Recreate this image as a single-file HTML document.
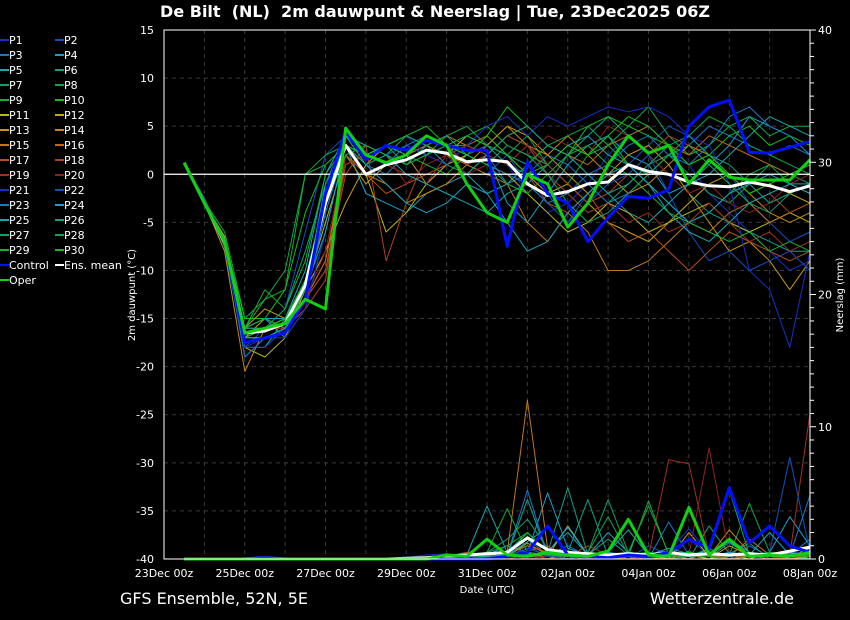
<!DOCTYPE html>
<html><head><meta charset="utf-8">
<style>
html,body{margin:0;padding:0;background:#000;}
svg{display:block;font-family:"DejaVu Sans","Liberation Sans",sans-serif;}
</style></head>
<body>
<svg id="chart" width="850" height="620" viewBox="0 0 850 620" xmlns="http://www.w3.org/2000/svg">
<rect x="0" y="0" width="850" height="620" fill="#000"/>
<text x="435" y="17" fill="#fff" font-size="16" font-weight="bold" text-anchor="middle" xml:space="preserve">De Bilt  (NL)  2m dauwpunt &amp; Neerslag | Tue, 23Dec2025 06Z</text>
<text x="120" y="604" fill="#fff" font-size="16">GFS Ensemble, 52N, 5E</text>
<text x="794" y="604" fill="#fff" font-size="16" text-anchor="end">Wetterzentrale.de</text>
<text x="487" y="593" fill="#fff" font-size="10" text-anchor="middle">Date (UTC)</text>
<text transform="translate(135,295) rotate(-90)" fill="#fff" font-size="10" text-anchor="middle">2m dauwpunt (°C)</text>
<text transform="translate(843,295) rotate(-90)" fill="#fff" font-size="10" text-anchor="middle">Neerslag (mm)</text>
<g id="grid"></g>
<g id="series"></g>
<g id="axes"></g>
<g id="legend"></g>
</svg>
<script>
const xTickLabels=["23Dec 00z","25Dec 00z","27Dec 00z","29Dec 00z","31Dec 00z","02Jan 00z","04Jan 00z","06Jan 00z","08Jan 00z"];
const xTickDays=[0,2,4,6,8,10,12,14,16];
const yTicks=[15,10,5,0,-5,-10,-15,-20,-25,-30,-35,-40];
const y2Ticks=[0,10,20,30,40];
const times=[0.5,1,1.5,2,2.5,3,3.5,4,4.5,5,5.5,6,6.5,7,7.5,8,8.5,9,9.5,10,10.5,11,11.5,12,12.5,13,13.5,14,14.5,15,15.5,16];
const members=[
[1.2,-3,-7,-17,-17,-16,-13,-3,4,2,3,2,3,1,2,3,1,-2,-4,-3,-1,2,4,5,3,1,-2,-4,-6,-8,-10,-9],
[1.2,-3,-8,-18,-16,-14,-6,2,4,2,1,3,2,3,1,0,2,-1,-3,-5,-2,0,1,3,5,4,2,0,-3,-5,-7,-6],
[1.2,-2.5,-7,-19,-17,-16,-12,-1,3,1,0,2,3,4,3,2,-1,0,2,1,-1,-3,-2,0,2,3,5,4,3,2,3,2],
[1,-3,-6.5,-16,-15,-17,-14,-6,3,-2,-3,-4,-2,-1,0,2,-3,-5,-2,1,3,4,2,1,-2,-1,1,3,6,5,4,2],
[1.2,-3,-7,-18,-18,-15,-10,0,4,1,2,1,3,2,0,-2,-1,1,3,2,0,-2,-4,-5,-3,-1,0,2,4,6,5,4],
[1.2,-3.2,-7,-16,-16,-15,-11,-2,4,3,2,4,3,2,4,3,1,0,-1,2,4,6,4,2,0,-2,-4,-5,-6,-7,-8,-8],
[1.2,-3,-7.5,-17,-17,-16,-13,-4,3,2,3,2,4,3,3,2,4,3,0,-2,-4,-3,-1,1,2,0,-2,-3,-1,1,0,-1],
[1.1,-2.8,-6,-15,-13,-10,0,2,3,1,2,3,2,4,5,3,2,4,1,-1,2,3,5,7,4,2,3,5,6,4,5,5],
[1.2,-3,-7,-16,-12,-14,-9,0,3,2,3,1,2,3,4,5,3,2,1,3,2,4,1,-1,-3,-5,-4,-2,0,1,-1,-2],
[1.2,-3,-7,-15,-15,-12,-4,1,3,2,3,4,3,2,3,4,7,5,3,2,5,6,5,4,3,1,2,4,5,3,4,3],
[1.2,-3,-6.5,-18,-19,-17,-12,-5,2,0,-6,-4,-1,1,2,1,0,-2,-4,-6,-5,-3,-4,-6,-5,-4,-3,-5,-6,-5,-4,-5],
[1.2,-3,-7,-17,-15,-16,-12,-8,-3,1,3,2,3,2,4,3,2,0,-2,-1,-3,-5,-6,-7,-5,-3,-1,0,-2,-1,-2,-3],
[1.2,-3,-7,-16,-14,-15,-13,-3,2,-1,1,2,-1,1,2,3,5,4,2,0,-2,0,2,3,1,-2,-5,-8,-7,-9,-12,-9],
[1.2,-3,-8,-20.5,-16,-15,-13,-9,2,0,-1,-3,-2,-1,1,3,5,3,2,4,2,0,-2,-1,1,3,2,0,-2,-4,-5,-4],
[1.2,-3,-7,-17,-16,-16,-13,-10,1,2,3,4,3,2,1,0,-1,-5,-7,-4,-6,-10,-10,-9,-7,-5,-6,-4,-3,-5,-4,-3],
[1.2,-3,-7,-16,-15,-15,-13,-9,1,2,1,2,3,4,3,2,4,5,3,2,1,3,4,5,3,2,4,3,2,1,0,1],
[1.2,-3,-7,-17,-17,-16,-14,-11,2,0,-2,-1,0,1,3,4,2,0,-3,-4,-2,-5,-7,-6,-8,-10,-8,-6,-7,-8,-9,-8],
[1.2,-3,-7,-17,-16,-15,-13,-10,0,3,-9,-3,2,3,1,2,4,3,1,-1,-3,-2,0,2,4,3,1,-1,-3,-2,-4,-3],
[1.2,-3,-7,-16,-16,-16,-14,-11,1,2,1,0,-1,2,3,2,1,3,0,-2,-4,-3,-5,-4,-6,-5,-3,-5,-7,-6,-8,-7],
[1.2,-3,-7,-17,-16,-16,-13,-8,2,3,2,-1,1,2,0,1,3,2,4,3,2,5,4,2,0,-2,-1,-3,-4,-3,-1,0],
[1.2,-3,-7,-18,-17,-17,-14,-6,3,2,3,4,2,1,3,5,6,4,6,5,6,7,6.5,7,6,4,3,-1,-10,-12,-18,-8],
[1.2,-3,-7,-18,-18,-16,-13,-3,3,1,2,3,2,3,2,3,2,1,-2,-5,-3,-1,0,2,-2,-6,-9,-8,-10,-9,-8,-10],
[1.2,-3,-7,-19,-17,-16,-13,-4,3,2,1,3,4,3,2,1,0,-1,-3,-2,0,1,3,4,2,1,3,6,7,5,4,2],
[1.2,-3,-7,-16,-15,-15,-12,-6,3,1,-1,-3,-4,-3,-1,-2,-5,-8,-7,-4,-2,0,1,-1,-3,-5,-4,-2,-1,0,-1,-2],
[1.2,-3,-7,-17,-17,-16,-13,-1,4,3,2,0,-1,-2,-3,-4,-2,-1,1,3,4,2,1,-1,-4,-6,-7,-5,-3,-2,-1,-1],
[1.2,-3,-7,-16,-16,-15,-12,-2,3,2,3,4,3,1,0,2,4,5,3,2,0,-2,-1,1,3,4,2,1,-1,-3,-2,-1],
[1.2,-3,-7,-17,-16,-14,-8,-1,3,1,2,1,3,4,2,1,3,2,0,-3,-5,-4,-2,0,2,3,1,-1,-3,-4,-2,-1],
[1.2,-3,-7,-16,-15,-16,-12,-3,2,3,2,1,2,3,4,3,2,1,3,4,5,3,1,0,2,4,6,5,3,2,1,0],
[1.2,-3,-7,-16,-13,-12,0,1,3,2,3,2,1,0,2,1,-1,-2,0,2,3,1,0,-2,-4,-5,-6,-7,-6,-8,-7,-8],
[1.2,-3,-7,-17,-16,-15,-11,-2,3,2,3,4,5,3,2,4,2,0,1,3,2,4,6,5,3,1,2,0,-2,-1,0,1]
];
const control=[1.2,-3,-7,-17.5,-17,-16.5,-13,-2,4.5,1.5,3,2.5,3.5,3,2.5,2.5,-7.5,1.3,-2,-3,-7,-4.5,-2.3,-2.5,-1.6,5,7,7.7,2.3,2.2,2.8,3.4];
const oper=[1.2,-3,-7,-16.5,-16,-15.5,-13,-14,4.8,2,1.2,2,4,3,-1,-4,-5,0,-1,-5.5,-3,1,4,2.2,3,-1,1.5,-0.3,-0.6,-0.6,-0.6,1.5];
const ensMean=[1.2,-3,-7.1,-16.5,-16.3,-15.5,-11.5,-3,3,0,1,1.5,2.5,2.2,1.3,1.5,1.3,-1,-2.2,-1.8,-1,-0.8,1,0.3,0,-0.8,-1.2,-1.3,-0.8,-1.2,-1.8,-1.2];
const memberPrecip=[
[0,0,0,0,0,0,0,0,0,0,0,0,0.1,0.3,0.2,0,0.5,1,0.2,0,0.3,0,0.5,0.2,0,1.5,0.3,0,0.2,0,0.4,0.2],
[0,0,0,0,0,0,0,0,0,0,0,0,0,0.2,0.1,0.3,0.2,4.5,0.5,0.3,0,0.2,0,1,0.3,0,0.5,1.2,0.3,0,0.2,0.5],
[0,0,0,0,0,0,0,0,0,0,0,0,0,0,0,0.2,0.4,1.5,0.3,1,0.2,0,0.3,0,2.8,0.3,0.5,0,1,0.2,0.3,1.5],
[0,0,0,0,0,0,0,0,0,0,0,0,0,0.2,0.5,0.3,1,0.5,5,0.8,0.3,2,0.5,0.3,0,0.5,0,1.3,0.2,0.5,3.2,1],
[0,0,0,0,0,0,0,0,0,0,0,0,0,0,0.3,4,0.5,0.2,0.6,2,0.3,0,0.5,0.2,0.3,0,0.8,0,0.3,0.5,0.2,0],
[0,0,0,0,0,0,0,0,0,0,0,0,0,0,0,0.3,0.2,0.8,0.3,0.5,4.5,0.2,0.3,0,0.5,0,2.5,0.4,1.2,0,0.3,0],
[0,0,0,0,0,0,0,0,0,0,0,0,0,0,0.1,0.5,1.5,3,0.8,0.2,0.5,4.5,0.5,0.3,0,0.2,0.8,0,0.2,0.5,0,0.3],
[0,0,0,0,0,0,0,0,0,0,0,0,0,0,0,0.5,1,2,0.5,0.3,0,0.2,0.5,4,0.4,0.5,0,0.3,4.2,0.5,0.3,0.2],
[0,0,0,0,0,0,0,0,0,0,0,0,0,0,0.2,0.4,0.3,1,0.5,0,0.3,0,0.2,0.3,0,0.6,0,0.2,0.3,0,0.5,0],
[0,0,0,0,0,0,0,0,0,0,0,0,0,0.1,0,0.2,0.3,0.4,0.3,0.2,0,0.5,0.2,0,0.5,0.2,0.3,0,0.2,0.4,0,0.2],
[0,0,0,0,0,0,0,0,0,0,0,0,0,0,0,0,0.2,0.3,0,0.5,0.2,0,0.3,0,0.2,0.3,0,0.5,0.3,0,0.2,0.8],
[0,0,0,0,0,0,0,0,0,0,0,0,0,0,0.1,0.2,0.5,0.3,0.2,2.5,0.3,0,0.5,0.3,0,2,0.2,0.3,0,0.5,0.4,0.3],
[0,0,0,0,0,0,0,0,0,0,0,0,0,0,0,0.3,0.2,1.2,0.3,0,0.5,0.2,0,0.4,0.2,0.3,0,1,0.3,0.5,0,0.2],
[0,0,0,0,0,0,0,0,0,0,0,0,0,0,0,0,0.3,0.5,0.2,0.3,0,0.5,0.3,0.2,0,0.5,0.2,2.2,0.5,0.3,0.2,0.5],
[0,0,0,0,0,0,0,0,0,0,0,0,0,0,0.2,0.1,0.5,12,0.8,0.3,0.2,0.5,0,0.3,0.2,0.5,0.3,0,0.2,0.3,0,0.4],
[0,0,0,0,0,0,0,0,0,0,0,0,0,0,0,0.2,0.3,1,0.5,0.2,0.3,0,0.4,0.2,0.3,0,0.5,0.2,1.5,0.3,0.2,0.4],
[0,0,0,0,0,0,0,0,0,0,0,0,0,0,0.5,0.3,0.2,0.6,1,0.2,0,0.3,0.2,0,0.3,0.5,0.2,0,0.3,0,0.2,0.3],
[0,0,0,0,0,0,0,0,0,0,0,0,0,0,0,0.2,0,0.3,0.5,0.2,1,0.3,0,0.5,0.2,0.3,0.5,0.2,0.3,0.2,0,0.5],
[0,0,0,0,0,0,0,0,0,0,0,0,0,0,0,0,0.2,0.3,0,0.2,0.5,0.3,0,0.2,7.5,7.2,0.3,0.2,0.5,0,0.3,11],
[0,0,0,0,0,0,0,0,0,0,0,0,0,0,0,0.1,0.3,0,0.2,0.3,0,0.2,0.3,0.4,0.2,0.3,8.4,0.3,0.2,0.4,0.3,0.2],
[0,0,0,0.1,0.2,0.1,0,0,0,0,0,0.1,0.3,0.4,0.2,0,0.3,0.5,0.2,0.3,0,0.5,0.3,0.2,0.5,2.3,0.4,0.3,0.5,0.2,0.6,0.3],
[0,0,0,0,0,0,0,0,0,0,0,0,0,0.2,0.3,0.5,0.2,0.8,0.3,0,0.4,0.2,0.3,0,0.5,0.3,0.5,0.2,0.3,0.5,7.7,0.5],
[0,0,0,0,0,0,0,0,0,0,0,0,0,0,0.2,0.5,0.3,5.2,0.3,0.2,0.5,0.3,0.2,0.4,0.3,0.5,0.3,0.4,0.3,0.5,0.3,4.8],
[0,0,0,0,0,0,0,0,0,0,0,0,0,0,0,0.3,0.5,0.3,0.5,2.4,0.3,0.5,0.2,0.3,0.8,0.4,0.2,0.5,0.3,2,0.3,0.5],
[0,0,0,0,0,0,0,0,0,0,0,0,0,0,0,0.2,0.3,1.3,2.4,0.5,0.3,0.5,2.2,0.3,0.5,0.2,0.3,1.5,0.5,0.3,0.5,0.3],
[0,0,0,0,0,0,0,0,0,0,0,0,0,0,0,0.3,0.5,2,0.5,5.4,0.3,1.5,0.3,0.5,0.3,0.2,0.5,0.3,0.4,0.2,0.3,0.5],
[0,0,0,0,0,0,0,0,0,0,0,0,0,0,0.2,0.5,0.3,4.5,0.3,0.5,0.3,0.2,0.5,0.3,0.2,0.3,0.5,0.2,0.5,0.3,0.2,0.4],
[0,0,0,0,0,0,0,0,0,0,0,0,0,0,0,0.3,0.2,0.5,0.3,0.2,0.5,3.2,0.3,0.5,0.2,0.3,0.5,5.2,0.3,0.5,0.2,0.3],
[0,0,0,0,0,0,0,0,0,0,0,0,0,0,0.3,0.5,3.8,0.5,0.3,0.2,0.5,0.3,0.2,4.4,0.3,0.2,0.5,0.3,0.2,0.5,0.3,0.2],
[0,0,0,0,0,0,0,0,0,0,0,0,0,0.1,0.2,0.5,0.3,2,0.5,0.3,0.5,0.2,0.3,0.5,0.3,0.5,0.2,0.3,0.5,0.2,0.3,0.5]
];
const controlPrecip=[0,0,0,0,0,0,0,0,0,0,0,0,0,0,0,0,0.2,0.5,2.5,0.3,0.2,0.1,0.3,0.2,0.5,1.5,0.8,5.4,1.2,2.5,1,0.5];
const operPrecip=[0,0,0,0,0,0,0,0,0,0,0,0,0,0.3,0.2,1.5,0.3,0.2,0.5,0.3,0.2,0.6,3,0.3,0.2,3.9,0.3,1.5,0.2,0.3,0.2,0.5];
const meanPrecip=[0,0,0,0,0,0,0,0,0,0,0,0.05,0.1,0.2,0.3,0.4,0.5,1.6,0.7,0.5,0.4,0.3,0.4,0.3,0.5,0.3,0.4,0.3,0.4,0.3,0.6,0.9];
const memberColors=["#1530c8","#1050c0","#1a78c8","#18a0c8","#14a8b0","#10a088","#10a068","#10a848","#14b030","#10c018",
"#b8b810","#c8a810","#c89810","#c88810","#c07818","#c06818","#b85018","#b04020","#a03020","#902020",
"#1530c8","#1050c0","#1a78c8","#18a0c8","#14a8b0","#10a088","#10a068","#10a848","#14b030","#10c018"];

const NS="http://www.w3.org/2000/svg";
const L=164,R=810,T=30,B=559;
const xS=t=>L+t*(R-L)/16;
const yS=v=>T+(15-v)*(B-T)/55;
const y2S=v=>B-v*(B-T)/40;
function mk(tag,parent,attrs){const e=document.createElementNS(NS,tag);for(const k in attrs)e.setAttribute(k,attrs[k]);parent.appendChild(e);return e;}
const grid=document.getElementById('grid'),ser=document.getElementById('series'),ax=document.getElementById('axes'),leg=document.getElementById('legend');

xTickDays.forEach((d,i)=>{
  for(let h=0;h<2;h++){const dd=d+h;if(dd>=16||dd===0&&h===0&&false)continue;
    if(dd>0&&dd<16){const g=mk('line',grid,{x1:xS(dd),x2:xS(dd),y1:T,y2:B,stroke:'#3a3a3a','stroke-dasharray':'4,4'});
    
    }}
  const t=mk('text',ax,{x:xS(d),y:577,fill:'#fff','font-size':11,'text-anchor':'middle'});
  
  
  t.textContent=xTickLabels[i];
});
yTicks.forEach(v=>{
  if(v<15&&v>-40){const g=mk('line',grid,{x1:L,x2:R,y1:yS(v),y2:yS(v),stroke:'#3a3a3a','stroke-dasharray':'4,4'});
  
  }
  const t=mk('text',ax,{x:154,y:yS(v)+4,fill:'#fff','font-size':11,'text-anchor':'end'});
  
  
  t.textContent=v;
});
for(let m=0;m<=40;m++){
  const tk=mk('line',ax,{x1:R,x2:R+(m%10===0?6:4),y1:y2S(m),y2:y2S(m),stroke:'#fff'});
  
  
}
y2Ticks.forEach(v=>{
  const t=mk('text',ax,{x:818,y:y2S(v)+4,fill:'#fff','font-size':11});
  
  
  t.textContent=v;
});
const fr=mk('rect',ax,{x:L,y:T,width:R-L,height:B-T,fill:'none',stroke:'#fff','stroke-width':1});



function pts(arr,sc){return arr.map((v,i)=>xS(times[i]).toFixed(1)+','+sc(v).toFixed(1)).join(' ');}
function line(arr,sc,color,w,name){const p=mk('polyline',ser,{points:pts(arr,sc),fill:'none',stroke:color,'stroke-width':w,'stroke-linejoin':'round'});return p;}

members.forEach((m,i)=>{
  const p=line(m,yS,memberColors[i],1);
  
  
});
memberPrecip.forEach((m,i)=>{
  const p=line(m,y2S,memberColors[i],1);
  
  
});
const zl=mk('line',ser,{x1:L,x2:R,y1:yS(0),y2:yS(0),stroke:'#fff','stroke-width':1.3});


let p;
p=line(meanPrecip,y2S,'#fff',3);


p=line(controlPrecip,y2S,'#0010ff',3);


p=line(operPrecip,y2S,'#10d010',3);


p=line(ensMean,yS,'#fff',3);


p=line(control,yS,'#0010ff',3);


p=line(oper,yS,'#10d010',3);



const legNames=[],legCols=[];
for(let i=0;i<30;i++){legNames.push('P'+(i+1));legCols.push(memberColors[i]);}
legNames.push('Control','Ens. mean','Oper');legCols.push('#0010ff','#fff','#10d010');
legNames.forEach((n,i)=>{
  const col=i%2,row=Math.floor(i/2);
  const x=col?55:0,y=40+row*15;
  const g=mk('g',leg,{});
  
  
  mk('line',g,{x1:x,x2:x+9,y1:y,y2:y,stroke:legCols[i],'stroke-width':2});
  const t=mk('text',g,{x:x+9,y:y+4,fill:'#fff','font-size':11});
  t.textContent=n;
});
</script>
</body></html>
